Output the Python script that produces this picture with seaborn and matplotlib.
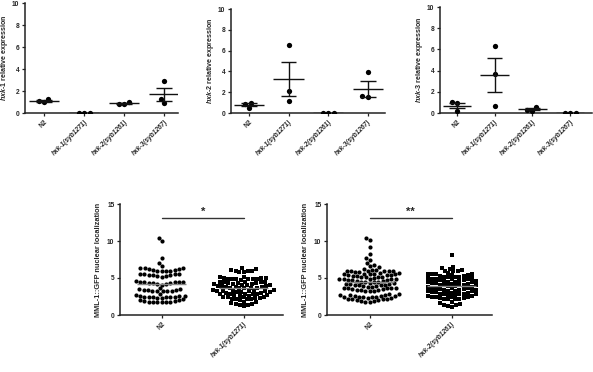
import numpy as np
import pandas as pd
import matplotlib
matplotlib.use("Agg")
import matplotlib.pyplot as plt
import seaborn as sns

sns.set_theme(style="white")
plt.rcParams['font.family'] = ['Liberation Sans', 'DejaVu Sans']
plt.rcParams['mathtext.fontset'] = 'custom'
plt.rcParams['mathtext.it'] = 'Liberation Sans:italic:bold'
plt.rcParams['mathtext.rm'] = 'Liberation Sans:bold'
plt.rcParams['mathtext.bf'] = 'Liberation Sans:bold'

# ---------------- data ----------------
genotypes = ["N2", "hxk-1(syb1271)", "hxk-2(syb1261)", "hxk-3(syb1267)"]

# hxk-1 relative expression (3 replicates per genotype)
hxk1_N2 = [1.0, 1.3, 1.1]
hxk1_k1 = [0.0, 0.0, 0.0]
hxk1_k2 = [0.8, 1.0, 0.85]
hxk1_k3 = [2.9, 1.3, 0.9]

# hxk-2 relative expression
hxk2_N2 = [1.0, 0.5, 0.9]
hxk2_k1 = [6.5, 2.1, 1.2]
hxk2_k2 = [0.0, 0.0, 0.0]
hxk2_k3 = [3.9, 1.5, 1.6]

# hxk-3 relative expression
hxk3_N2 = [1.0, 0.2, 0.9]
hxk3_k1 = [6.3, 3.7, 0.7]
hxk3_k2 = [0.6, 0.2, 0.3]
hxk3_k3 = [0.0, 0.0, 0.0]

# MML-1::GFP nuclear localization, experiment 1
mml_a_labels = ["N2", "hxk-1(syb1271)"]
mml_a_N2 = [10.4, 10.0, 7.7, 7.0, 6.6,
            6.4, 6.3, 6.3, 6.2, 6.2, 6.1, 6.1, 6.0, 6.0, 6.0, 5.9,
            5.6, 5.6, 5.5, 5.5, 5.4, 5.4, 5.4, 5.3, 5.3, 5.2,
            4.6, 4.5, 4.5, 4.4, 4.4, 4.4, 4.3, 4.3, 4.3, 4.2, 4.2, 4.1,
            3.6, 3.5, 3.5, 3.4, 3.4, 3.4, 3.3, 3.3, 3.3, 3.2, 3.2,
            2.8, 2.7, 2.6, 2.6, 2.6, 2.5, 2.5, 2.5, 2.4, 2.4, 2.4, 2.3, 2.3,
            2.1, 2.0, 2.0, 1.9, 1.9, 1.8, 1.8, 1.8, 1.7, 1.7, 1.7]
mml_a_k1 = [6.3, 6.2, 6.1, 6.0, 6.0, 5.9, 5.8, 5.8,
            5.1, 5.1, 5.0, 5.0, 5.0, 4.9, 4.9, 4.9, 4.8, 4.8, 4.8, 4.7,
            4.5, 4.5, 4.4, 4.4, 4.4, 4.3, 4.3, 4.3, 4.2, 4.2, 4.2, 4.1,
            4.0, 4.0, 3.9, 3.9, 3.9, 3.8, 3.8, 3.8, 3.7, 3.7, 3.7, 3.6, 3.6,
            3.4, 3.4, 3.3, 3.3, 3.3, 3.2, 3.2, 3.2, 3.1, 3.1, 3.1, 3.0, 3.0,
            2.9, 2.9, 2.8, 2.8, 2.8, 2.7, 2.7, 2.6, 2.6, 2.5, 2.5, 2.4,
            2.4, 2.3, 2.3, 2.2, 2.2, 2.1, 2.1, 2.0,
            1.8, 1.7, 1.6, 1.5, 1.5, 1.4, 1.3, 1.2]

# MML-1::GFP nuclear localization, experiment 2
mml_b_labels = ["N2", "hxk-2(syb1261)"]
mml_b_N2 = [10.4, 10.1, 9.2, 8.3, 7.7, 7.5, 7.0, 6.7, 6.6, 6.5,
            6.2, 6.1, 6.1, 6.0, 6.0, 6.0, 5.9, 5.9, 5.9, 5.8, 5.8, 5.7, 5.7, 5.6,
            5.6, 5.5, 5.5, 5.5, 5.4, 5.4, 5.4, 5.3, 5.3, 5.2, 5.2, 5.1, 5.1, 5.0,
            4.9, 4.9, 4.8, 4.8, 4.8, 4.7, 4.7, 4.7, 4.6, 4.6, 4.5, 4.5, 4.4, 4.4,
            4.3, 4.3, 4.2, 4.2, 4.2, 4.1, 4.1, 4.0, 4.0, 3.9, 3.9, 3.8, 3.8,
            3.7, 3.7, 3.6, 3.6, 3.6, 3.5, 3.5, 3.4, 3.4, 3.4, 3.3, 3.3, 3.3,
            2.8, 2.8, 2.7, 2.7, 2.7, 2.6, 2.6, 2.6, 2.5, 2.5, 2.5, 2.4, 2.4,
            2.3, 2.3, 2.2, 2.2, 2.1, 2.1, 2.0, 2.0, 1.9, 1.9, 1.8, 1.8]
mml_b_k2 = [8.1, 6.5, 6.4, 6.2, 6.1, 6.0, 6.0, 5.9,
            5.7, 5.6, 5.6, 5.5, 5.5, 5.4, 5.4, 5.3, 5.3, 5.2, 5.2, 5.1, 5.1,
            5.0, 5.0, 4.9, 4.9, 4.8, 4.8, 4.7, 4.7, 4.6, 4.6, 4.6, 4.5, 4.5,
            4.4, 4.4, 4.3, 4.3, 4.2, 4.2, 4.1, 4.1, 4.0, 4.0, 4.0, 3.9, 3.9,
            3.8, 3.8, 3.7, 3.7, 3.6, 3.6, 3.5, 3.5, 3.4, 3.4, 3.4, 3.3, 3.3,
            3.2, 3.2, 3.1, 3.1, 3.0, 3.0, 2.9, 2.9, 2.8, 2.8, 2.8, 2.7, 2.7,
            2.6, 2.6, 2.5, 2.5, 2.4, 2.4, 2.3, 2.3, 2.2, 2.2, 2.1, 2.1,
            1.8, 1.6, 1.5, 1.4, 1.3, 1.2, 1.1]

# ---------------- figure ----------------
W, H = 593, 372
fig = plt.figure(figsize=(W / 100, H / 100), dpi=100)


def px_axes(left, right, top, bottom):
    return fig.add_axes([left / W, 1 - bottom / H, (right - left) / W, (bottom - top) / H])


def style_axes(ax):
    sns.despine(ax=ax)
    for s in ("left", "bottom"):
        ax.spines[s].set_color("#222222")
        ax.spines[s].set_linewidth(1.1)
    ax.tick_params(axis="both", which="both", direction="out", length=2.5, width=0.9,
                   color="#222222", labelsize=4.8, pad=1.5, bottom=True, left=True)
    ax.set_xlabel("")


def fmt_xticks(ax, labels):
    ax.set_xticks(range(len(labels)))
    ax.set_xticklabels(labels, rotation=45, ha="right", rotation_mode="anchor",
                       fontsize=4.8, fontweight="bold")
    for t in ax.get_xticklabels():
        if t.get_text() != "N2":
            t.set_fontstyle("italic")


def mean_sem(ax, groups, half_mean=0.38, half_cap=0.2):
    for i, vals in enumerate(groups):
        v = np.asarray(vals, dtype=float)
        m = v.mean()
        se = v.std(ddof=1) / np.sqrt(len(v))
        ax.hlines(m, i - half_mean, i + half_mean, color="#111111", lw=1.0, zorder=4)
        if se > 0:
            ax.vlines(i, m - se, m + se, color="#111111", lw=1.0, zorder=4)
            ax.hlines([m - se, m + se], i - half_cap, i + half_cap, color="#111111", lw=1.0, zorder=4)


top_sets = [
    ("1", [hxk1_N2, hxk1_k1, hxk1_k2, hxk1_k3], (25, 178, 3, 113), (-0.48, 3.35)),
    ("2", [hxk2_N2, hxk2_k1, hxk2_k2, hxk2_k3], (231, 385, 9, 113), (-0.45, 3.43)),
    ("3", [hxk3_N2, hxk3_k1, hxk3_k2, hxk3_k3], (440, 592, 7, 113), (-0.45, 3.58)),
]

for num, groups, box, xl in top_sets:
    ax = px_axes(*box)
    df = pd.DataFrame({
        "genotype": np.repeat(genotypes, [len(g) for g in groups]),
        "value": np.concatenate(groups),
    })
    sns.swarmplot(data=df, x="genotype", y="value", order=genotypes, color="black",
                  size=3.8, linewidth=0, ax=ax, zorder=3)
    mean_sem(ax, groups)
    ax.set_ylim(0, 10)
    ax.set_xlim(*xl)
    ax.set_yticks([0, 2, 4, 6, 8, 10])
    style_axes(ax)
    fmt_xticks(ax, genotypes)
    ax.set_ylabel(r"$\mathit{hxk}$-$\mathit{" + num + r"}$ relative expression",
                  fontsize=5.1, fontweight="bold", labelpad=1.5)
    for t in ax.get_yticklabels():
        t.set_fontweight("bold")

bottom_sets = [
    (mml_a_labels, [mml_a_N2, mml_a_k1], (120, 283, 204, 315), (-0.51, 1.48), "*"),
    (mml_b_labels, [mml_b_N2, mml_b_k2], (327, 492, 204, 315), (-0.52, 1.49), "**"),
]

for labels, groups, box, xl, star in bottom_sets:
    ax = px_axes(*box)
    df = pd.DataFrame({
        "genotype": np.repeat(labels, [len(g) for g in groups]),
        "value": np.concatenate(groups),
    })
    sns.swarmplot(data=df[df.genotype == labels[0]], x="genotype", y="value", order=labels,
                  color="black", size=3.0, linewidth=0, marker="o", ax=ax, zorder=3)
    sns.swarmplot(data=df[df.genotype == labels[1]], x="genotype", y="value", order=labels,
                  color="black", size=2.9, linewidth=0, marker="s", ax=ax, zorder=3)
    for i, g in enumerate(groups):
        ax.hlines(np.mean(g), i - 0.3, i + 0.3, color="#888888", lw=1.0, zorder=5)
    ax.set_ylim(0, 15)
    ax.set_xlim(*xl)
    ax.set_yticks([0, 5, 10, 15])
    style_axes(ax)
    fmt_xticks(ax, labels)
    ax.set_ylabel("MML-1::GFP nuclear localization", fontsize=5.3, fontweight="bold", labelpad=4)
    for t in ax.get_yticklabels():
        t.set_fontweight("bold")
    ax.plot([0, 1], [13.1, 13.1], color="#333333", lw=1.0, clip_on=False)
    ax.text(0.5, 13.3, star, ha="center", va="bottom", fontsize=8, fontweight="bold")

fig.savefig("out.png", dpi=100)
